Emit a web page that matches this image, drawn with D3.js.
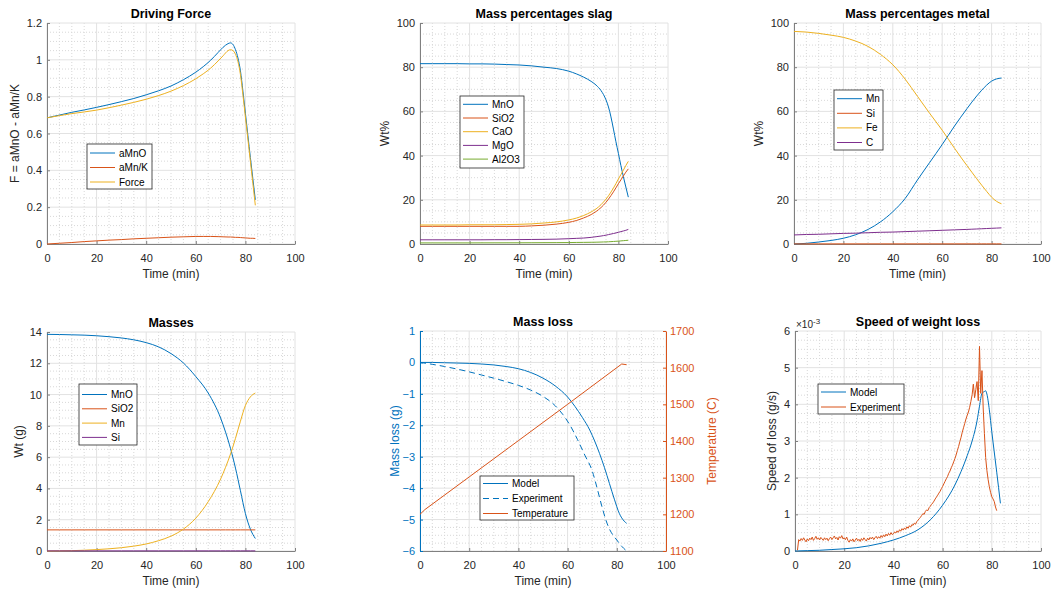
<!DOCTYPE html>
<html>
<head>
<meta charset="utf-8">
<script src="https://cdn.jsdelivr.net/npm/d3@7"></script>
<style>
  body { margin: 0; background: #fff; }
  svg { font-family: "Liberation Sans", Arial, sans-serif; }
</style>
</head>
<body>
<div id="chart"></div>
<script>
// ---- data ----
// Driving force
const dfTime = [0, 5, 10, 15, 20, 25, 30, 35, 40, 45, 50, 55, 60, 63, 66, 69, 71, 73, 74, 75, 76, 77, 78, 79, 80, 81, 82, 83, 84];
const dfAMnO = [0.685, 0.700, 0.715, 0.728, 0.742, 0.757, 0.773, 0.790, 0.810, 0.832, 0.858, 0.892, 0.933, 0.963, 0.998, 1.040, 1.068, 1.088, 1.092, 1.083, 1.055, 1.010, 0.940, 0.830, 0.710, 0.590, 0.470, 0.355, 0.240];
const dfAMnK = [0.000, 0.004, 0.008, 0.013, 0.017, 0.021, 0.024, 0.028, 0.031, 0.034, 0.037, 0.039, 0.041, 0.041, 0.041, 0.040, 0.039, 0.038, 0.038, 0.037, 0.036, 0.036, 0.035, 0.034, 0.033, 0.032, 0.031, 0.031, 0.030];
const dfForce = [0.685, 0.697, 0.708, 0.717, 0.727, 0.740, 0.754, 0.769, 0.786, 0.806, 0.830, 0.860, 0.897, 0.924, 0.955, 0.994, 1.022, 1.050, 1.055, 1.050, 1.030, 0.990, 0.920, 0.810, 0.690, 0.570, 0.450, 0.330, 0.210];

// Slag composition (wt%), same time grid as driving force
const slagMnO = [81.6, 81.6, 81.6, 81.6, 81.5, 81.5, 81.4, 81.2, 81.0, 80.6, 80.0, 79.4, 78.2, 77.0, 75.5, 73.6, 71.9, 69.4, 67.6, 65.2, 62.0, 57.5, 52.0, 46.3, 41.0, 35.5, 30.5, 25.8, 21.2];
const slagSiO2 = [8.0, 8.0, 8.0, 8.0, 8.0, 8.0, 8.0, 8.0, 8.0, 8.2, 8.5, 9.0, 9.8, 10.6, 11.8, 13.3, 14.7, 16.5, 17.6, 18.9, 20.3, 21.9, 23.6, 25.4, 27.3, 29.0, 30.8, 32.5, 34.0];
const slagCaO = [8.6, 8.6, 8.6, 8.6, 8.7, 8.7, 8.7, 8.8, 8.9, 9.1, 9.5, 10.0, 10.9, 11.7, 12.9, 14.5, 15.9, 17.8, 19.0, 20.3, 21.8, 23.5, 25.3, 27.3, 29.4, 31.4, 33.4, 35.5, 37.4];
const slagMgO = [1.9, 1.9, 1.9, 1.9, 1.9, 1.9, 1.95, 1.95, 2.0, 2.05, 2.1, 2.2, 2.4, 2.55, 2.7, 3.0, 3.3, 3.6, 3.8, 4.0, 4.25, 4.5, 4.75, 5.0, 5.3, 5.6, 5.9, 6.2, 6.6];
const slagAl2O3 = [0.5, 0.5, 0.5, 0.5, 0.5, 0.52, 0.53, 0.54, 0.55, 0.57, 0.6, 0.62, 0.65, 0.7, 0.74, 0.78, 0.82, 0.88, 0.92, 0.95, 1.0, 1.07, 1.14, 1.22, 1.3, 1.4, 1.5, 1.6, 1.7];

// Metal composition (wt%) and masses (g)
const mTime = [0, 5, 10, 15, 20, 25, 30, 35, 40, 45, 50, 55, 60, 65, 70, 72, 74, 76, 78, 80, 82, 84];
const metalMn = [0.0, 0.3, 0.9, 1.6, 2.6, 4.2, 6.6, 10.0, 14.6, 20.6, 29.0, 37.0, 45.0, 53.4, 61.2, 64.2, 67.0, 69.6, 71.9, 73.7, 74.7, 75.1];
const metalSi = [0.05, 0.05, 0.05, 0.05, 0.05, 0.05, 0.05, 0.05, 0.05, 0.05, 0.05, 0.05, 0.05, 0.05, 0.05, 0.05, 0.05, 0.05, 0.05, 0.05, 0.05, 0.05];
const metalFe = [96.2, 95.9, 95.3, 94.5, 93.5, 91.8, 89.4, 85.8, 81.1, 74.6, 66.8, 59.0, 51.5, 43.3, 35.5, 32.5, 29.5, 26.6, 23.8, 21.2, 19.3, 18.2];
const metalC = [4.1, 4.3, 4.4, 4.6, 4.8, 4.9, 5.1, 5.3, 5.4, 5.6, 5.8, 6.0, 6.2, 6.4, 6.6, 6.7, 6.8, 6.9, 7.0, 7.1, 7.2, 7.3];
const massMnO = [13.85, 13.84, 13.82, 13.80, 13.76, 13.70, 13.62, 13.50, 13.32, 13.05, 12.62, 12.02, 11.15, 10.10, 8.50, 7.60, 6.55, 5.30, 3.85, 2.40, 1.40, 0.80];
const massSiO2 = [1.35, 1.35, 1.35, 1.35, 1.35, 1.35, 1.35, 1.35, 1.35, 1.35, 1.35, 1.35, 1.35, 1.35, 1.35, 1.35, 1.35, 1.35, 1.35, 1.35, 1.35, 1.35];
const massMn = [0.0, 0.01, 0.02, 0.05, 0.09, 0.14, 0.21, 0.31, 0.45, 0.66, 0.95, 1.40, 2.10, 3.15, 4.60, 5.35, 6.20, 7.20, 8.30, 9.30, 9.85, 10.10];
const massSi = [0.01, 0.01, 0.01, 0.01, 0.01, 0.01, 0.01, 0.01, 0.01, 0.01, 0.01, 0.01, 0.01, 0.01, 0.01, 0.01, 0.01, 0.01, 0.01, 0.01, 0.01, 0.01];

// Mass loss
const lossModelTime = [0, 5, 10, 15, 20, 25, 30, 35, 40, 45, 50, 55, 60, 63, 66, 69, 71, 73, 75, 77, 79, 81, 83, 84];
const lossModel = [0, 0, -0.01, -0.02, -0.03, -0.05, -0.08, -0.13, -0.2, -0.32, -0.5, -0.75, -1.1, -1.4, -1.75, -2.15, -2.5, -2.9, -3.35, -3.85, -4.35, -4.8, -5.05, -5.12];
const lossExpTime = [0, 5, 10, 15, 20, 25, 30, 35, 40, 45, 50, 55, 58, 61, 64, 67, 70, 72, 74, 75.5, 77, 78.5, 80, 82, 84];
const lossExp = [0, -0.06, -0.13, -0.21, -0.30, -0.40, -0.50, -0.61, -0.73, -0.88, -1.08, -1.38, -1.65, -2.0, -2.45, -2.95, -3.45, -4.0, -4.6, -5.0, -5.3, -5.5, -5.65, -5.85, -6.0];
const tempTime = [0, 2, 20, 40, 60, 82, 84];
const tempC = [1200, 1213, 1302, 1401, 1500, 1610, 1608];

// Speed of weight loss (x 10^-3 g/s)
const speedModelTime = [0, 5, 10, 15, 20, 25, 30, 35, 40, 45, 50, 55, 60, 65, 70, 72, 74, 75, 76, 77, 77.5, 78, 79, 80, 81, 82, 83.5];
const speedModel = [0, 0.01, 0.02, 0.04, 0.06, 0.09, 0.14, 0.21, 0.30, 0.42, 0.58, 0.85, 1.25, 1.80, 2.60, 3.00, 3.55, 3.95, 4.30, 4.35, 4.37, 4.28, 3.85, 3.25, 2.70, 2.15, 1.30];
// experiment sampled every 0.5 min from t = 1 min
const speedExpStart = 1, speedExpStep = 0.5;
const speedExp = [
  0.02, 0.31, 0.27, 0.34, 0.29, 0.36, 0.30, 0.25, 0.33, 0.28,
  0.35, 0.31, 0.38, 0.29, 0.34, 0.40, 0.32, 0.36, 0.30, 0.37,
  0.33, 0.29, 0.36, 0.31, 0.35, 0.28, 0.34, 0.38, 0.31, 0.36,
  0.41, 0.33, 0.37, 0.30, 0.39, 0.35, 0.42, 0.33, 0.36, 0.31,
  0.38, 0.29, 0.24, 0.31, 0.27, 0.33, 0.25, 0.30, 0.35, 0.28,
  0.32, 0.26, 0.34, 0.29, 0.36, 0.31, 0.27, 0.35, 0.30, 0.37,
  0.33, 0.38, 0.31, 0.36, 0.40, 0.34, 0.39, 0.35, 0.42, 0.37,
  0.44, 0.39, 0.46, 0.41, 0.48, 0.43, 0.50, 0.45, 0.47, 0.52,
  0.49, 0.55, 0.51, 0.58, 0.54, 0.61, 0.57, 0.63, 0.59, 0.66,
  0.62, 0.69, 0.65, 0.72, 0.70, 0.76, 0.73, 0.80, 0.84, 0.88,
  0.92, 0.97, 1.02, 1.00, 1.08, 1.12, 1.10, 1.18, 1.22, 1.27,
  1.31, 1.36, 1.42, 1.47, 1.52, 1.58, 1.63, 1.70, 1.76, 1.83,
  1.90, 1.97, 2.03, 2.12, 2.18, 2.27, 2.34, 2.43, 2.52, 2.62,
  2.74, 2.85, 2.98, 3.10, 3.24, 3.36, 3.48, 3.60, 3.70, 3.79,
  3.92, 4.08, 4.26, 4.55, 4.18, 4.40, 4.62, 4.10, 5.58, 4.30,
  4.92, 3.90, 3.20, 2.55, 2.20, 1.95, 1.75, 1.60, 1.48, 1.42,
  1.35, 1.20, 1.10
];

const xTicks = [0, 20, 40, 60, 80, 100];

// ---- drawing ----
const C = { blue: '#0072BD', orange: '#D95319', yellow: '#EDB120', purple: '#7E2F8E', green: '#77AC30' };
const svg = d3.select('#chart').append('svg').attr('width', 1051).attr('height', 591);

function panel(o) {
  const g = svg.append('g');
  const x = d3.scaleLinear().domain([0, 100]).range([o.left, o.right]);
  const y = d3.scaleLinear().domain(o.yDomain).range([o.bottom, o.top]);
  const isMajor = (v, ticks) => ticks.some(t => Math.abs(t - v) < 1e-9);

  // minor grid (dotted)
  const minor = g.append('g').attr('stroke', '#d8d8d8').attr('stroke-dasharray', '1,2').attr('stroke-width', 1);
  d3.range(0, 100.001, 5).filter(v => !isMajor(v, xTicks)).forEach(v => {
    minor.append('line').attr('x1', x(v)).attr('x2', x(v)).attr('y1', o.top).attr('y2', o.bottom);
  });
  d3.range(o.yDomain[0], o.yDomain[1] + 1e-9, o.yMinor).filter(v => !isMajor(+v.toFixed(6), o.yTicks)).forEach(v => {
    minor.append('line').attr('x1', o.left).attr('x2', o.right).attr('y1', y(v)).attr('y2', y(v));
  });
  // major grid
  const major = g.append('g').attr('stroke', '#e2e2e2').attr('stroke-width', 1);
  xTicks.forEach(v => major.append('line').attr('x1', x(v)).attr('x2', x(v)).attr('y1', o.top).attr('y2', o.bottom));
  o.yTicks.forEach(v => major.append('line').attr('x1', o.left).attr('x2', o.right).attr('y1', y(v)).attr('y2', y(v)));

  const axes = g.append('g');
  const lines = g.append('g');   // data sits on top of the axis lines, as in the original

  // x axis
  const xa = axes.append('g').attr('transform', `translate(0,${o.bottom})`)
    .call(d3.axisBottom(x).tickValues(xTicks).tickSizeInner(-3).tickSizeOuter(0).tickPadding(10));
  styleAxis(xa, '#262626', '#808080');
  // y axis
  const yc = o.leftColor || '#262626';
  const ya = axes.append('g').attr('transform', `translate(${o.left},0)`)
    .call(d3.axisLeft(y).tickValues(o.yTicks).tickFormat(o.yFmt || d3.format('')).tickSizeInner(-3).tickSizeOuter(0).tickPadding(5));
  styleAxis(ya, yc, o.leftColor || '#808080');

  // title and labels
  g.append('text').attr('x', (o.left + o.right) / 2).attr('y', o.top - 5)
    .attr('text-anchor', 'middle').attr('font-weight', 'bold').attr('font-size', 12.5).attr('fill', '#000').text(o.title);
  g.append('text').attr('x', (o.left + o.right) / 2).attr('y', o.bottom + 34)
    .attr('text-anchor', 'middle').attr('font-size', 12).attr('fill', '#262626').text('Time (min)');
  g.append('text').attr('transform', `translate(${o.left - o.yLabelOff},${(o.top + o.bottom) / 2}) rotate(-90)`)
    .attr('text-anchor', 'middle').attr('dominant-baseline', 'central')
    .attr('font-size', 12).attr('fill', yc).text(o.yLabel);

  return { g, x, y, lines, axes, o };
}

function styleAxis(sel, textColor, lineColor) {
  sel.selectAll('text').attr('font-size', 11).attr('fill', textColor).attr('font-family', null);
  sel.selectAll('line').attr('stroke', lineColor);
  sel.select('.domain').attr('stroke', lineColor);
  sel.attr('font-family', null);
}

function series(p, xs, ys, color, opts = {}) {
  const yScale = opts.y || p.y;
  const line = d3.line().x(d => p.x(d[0])).y(d => yScale(d[1])).curve(opts.curve || d3.curveMonotoneX);
  p.lines.append('path').datum(xs.map((t, i) => [t, ys[i]]))
    .attr('d', line).attr('fill', 'none').attr('stroke', color)
    .attr('stroke-width', opts.width || 1)
    .attr('stroke-dasharray', opts.dash || null);
}

function legend(p, box, items) {
  const lg = p.g.append('g');
  lg.append('rect').attr('x', box.x).attr('y', box.y).attr('width', box.w).attr('height', box.h)
    .attr('fill', '#fff').attr('stroke', '#262626').attr('stroke-width', 0.8);
  items.forEach((it, i) => {
    const cy = box.y + box.first + i * box.step;
    lg.append('line').attr('x1', box.x + 3).attr('x2', box.x + 28).attr('y1', cy).attr('y2', cy)
      .attr('stroke', it.color).attr('stroke-width', 1).attr('stroke-dasharray', it.dash || null);
    lg.append('text').attr('x', box.x + 32).attr('y', cy).attr('dominant-baseline', 'central')
      .attr('font-size', 10).attr('fill', '#000').text(it.label);
  });
}

// 1. Driving Force
const p1 = panel({ left: 47, right: 295, top: 23, bottom: 244, yDomain: [0, 1.2], yTicks: [0, 0.2, 0.4, 0.6, 0.8, 1, 1.2], yMinor: 0.05,
  title: 'Driving Force', yLabel: 'F = aMnO - aMn/K', yLabelOff: 32 });
series(p1, dfTime, dfAMnO, C.blue);
series(p1, dfTime, dfAMnK, C.orange);
series(p1, dfTime, dfForce, C.yellow);
legend(p1, { x: 87, y: 144, w: 65, h: 45, first: 9, step: 14.5 },
  [{ label: 'aMnO', color: C.blue }, { label: 'aMn/K', color: C.orange }, { label: 'Force', color: C.yellow }]);

// 2. Mass percentages slag
const p2 = panel({ left: 420, right: 668, top: 23, bottom: 244, yDomain: [0, 100], yTicks: [0, 20, 40, 60, 80, 100], yMinor: 5,
  title: 'Mass percentages slag', yLabel: 'Wt%', yLabelOff: 35 });
series(p2, dfTime, slagMnO, C.blue);
series(p2, dfTime, slagSiO2, C.orange);
series(p2, dfTime, slagCaO, C.yellow);
series(p2, dfTime, slagMgO, C.purple);
series(p2, dfTime, slagAl2O3, C.green);
legend(p2, { x: 460, y: 96, w: 64, h: 72, first: 8.3, step: 13.7 },
  [{ label: 'MnO', color: C.blue }, { label: 'SiO2', color: C.orange }, { label: 'CaO', color: C.yellow },
   { label: 'MgO', color: C.purple }, { label: 'Al2O3', color: C.green }]);

// 3. Mass percentages metal
const p3 = panel({ left: 794, right: 1041, top: 23, bottom: 244, yDomain: [0, 100], yTicks: [0, 20, 40, 60, 80, 100], yMinor: 5,
  title: 'Mass percentages metal', yLabel: 'Wt%', yLabelOff: 35 });
series(p3, mTime, metalMn, C.blue);
series(p3, mTime, metalSi, C.orange);
series(p3, mTime, metalFe, C.yellow);
series(p3, mTime, metalC, C.purple);
legend(p3, { x: 834, y: 90, w: 49, h: 60, first: 8.7, step: 14.6 },
  [{ label: 'Mn', color: C.blue }, { label: 'Si', color: C.orange }, { label: 'Fe', color: C.yellow }, { label: 'C', color: C.purple }]);

// 4. Masses
const p4 = panel({ left: 47, right: 295, top: 332, bottom: 551, yDomain: [0, 14], yTicks: [0, 2, 4, 6, 8, 10, 12, 14], yMinor: 0.5,
  title: 'Masses', yLabel: 'Wt (g)', yLabelOff: 28 });
series(p4, mTime, massMnO, C.blue);
series(p4, mTime, massSiO2, C.orange);
series(p4, mTime, massMn, C.yellow);
series(p4, mTime, massSi, C.purple);
legend(p4, { x: 79, y: 384, w: 58, h: 61, first: 10.5, step: 14.3 },
  [{ label: 'MnO', color: C.blue }, { label: 'SiO2', color: C.orange }, { label: 'Mn', color: C.yellow }, { label: 'Si', color: C.purple }]);

// 5. Mass loss (two y axes)
const p5 = panel({ left: 420, right: 666, top: 331, bottom: 551, yDomain: [-6, 1], yTicks: [-6, -5, -4, -3, -2, -1, 0, 1], yMinor: 0.25,
  title: 'Mass loss', yLabel: 'Mass loss (g)', yLabelOff: 25, leftColor: C.blue });
const yT = d3.scaleLinear().domain([1100, 1700]).range([551, 331]);
const ra = p5.axes.append('g').attr('transform', 'translate(666,0)')
  .call(d3.axisRight(yT).tickValues([1100, 1200, 1300, 1400, 1500, 1600, 1700]).tickFormat(d3.format('d'))
    .tickSizeInner(-3).tickSizeOuter(0).tickPadding(4));
styleAxis(ra, C.orange, C.orange);
p5.g.append('text').attr('transform', `translate(712,${(331 + 551) / 2}) rotate(-90)`)
  .attr('text-anchor', 'middle').attr('dominant-baseline', 'central')
  .attr('font-size', 12).attr('fill', C.orange).text('Temperature (C)');
series(p5, lossModelTime, lossModel, C.blue);
series(p5, lossExpTime, lossExp, C.blue, { dash: '6,4' });
series(p5, tempTime, tempC, C.orange, { y: yT, curve: d3.curveLinear });
legend(p5, { x: 480, y: 476, w: 94, h: 44, first: 7.5, step: 15 },
  [{ label: 'Model', color: C.blue }, { label: 'Experiment', color: C.blue, dash: '6,4' }, { label: 'Temperature', color: C.orange }]);

// 6. Speed of weight loss
const p6 = panel({ left: 795, right: 1041, top: 331, bottom: 551, yDomain: [0, 6], yTicks: [0, 1, 2, 3, 4, 5, 6], yMinor: 0.25,
  title: 'Speed of weight loss', yLabel: 'Speed of loss (g/s)', yLabelOff: 23 });
const expT = speedExp.map((v, i) => speedExpStart + i * speedExpStep);
series(p6, speedModelTime, speedModel, C.blue);
series(p6, expT, speedExp, C.orange, { curve: d3.curveLinear });
const exp10 = p6.g.append('text').attr('x', 796).attr('y', 328).attr('font-size', 10).attr('fill', '#262626');
exp10.append('tspan').text('\u00d710');
exp10.append('tspan').attr('dy', -4).attr('font-size', 8).text('-3');
legend(p6, { x: 818, y: 384, w: 86, h: 30, first: 8, step: 15 },
  [{ label: 'Model', color: C.blue }, { label: 'Experiment', color: C.orange }]);
</script>
</body>
</html>
